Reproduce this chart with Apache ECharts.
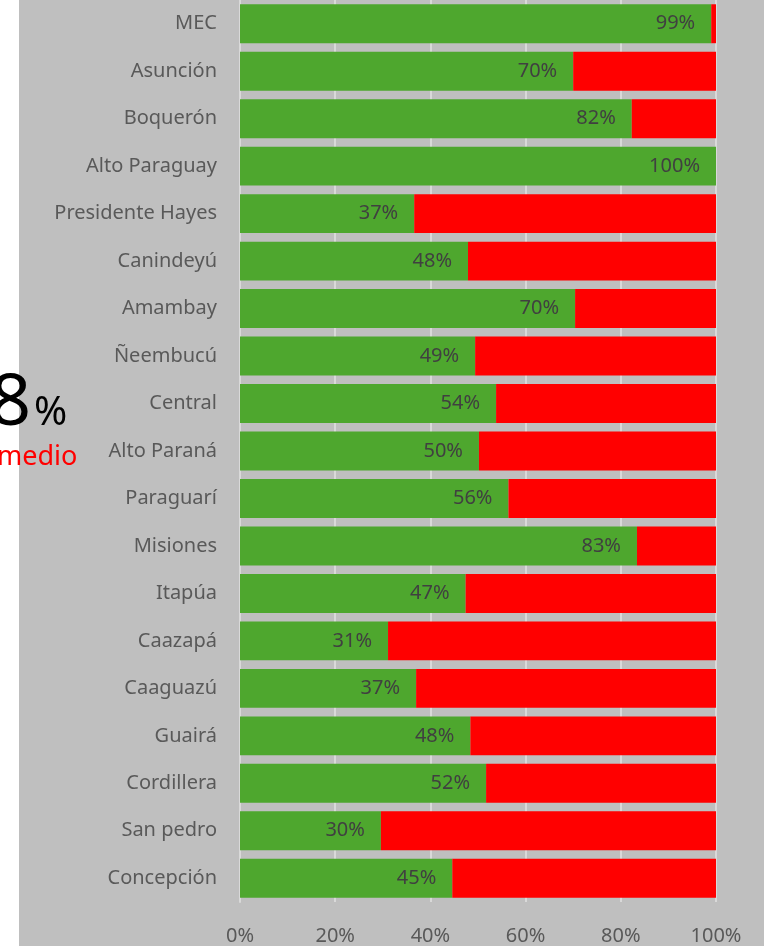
<!DOCTYPE html>
<html>
<head>
<meta charset="utf-8">
<script src="https://cdn.jsdelivr.net/npm/echarts@6/dist/echarts.min.js"></script>
<style>
  html, body { margin: 0; padding: 0; background: #fff; }
  #chart { width: 764px; height: 946px; }
</style>
</head>
<body>
<div id="chart"></div>
<script>
'use strict';

// departments, top to bottom
var categories = ['MEC', 'Asunción', 'Boquerón', 'Alto Paraguay', 'Presidente Hayes', 'Canindeyú',
    'Amambay', 'Ñeembucú', 'Central', 'Alto Paraná', 'Paraguarí', 'Misiones', 'Itapúa',
    'Caazapá', 'Caaguazú', 'Guairá', 'Cordillera', 'San pedro', 'Concepción'];

// share in green (%)
var greenValues = [99, 70, 82.3, 100, 36.6, 47.9, 70.4, 49.4, 53.8, 50.2, 56.4, 83.4, 47.4,
    31.1, 37, 48.4, 51.7, 29.6, 44.6];

// remainder in red
var redValues = greenValues.map(function (v) { return +(100 - v).toFixed(1); });

var xTicks = [0, 20, 40, 60, 80, 100];

var fontFamily = 'Noto Sans, Liberation Sans, sans-serif';

var chart = echarts.init(document.getElementById('chart'));

chart.setOption({
    backgroundColor: '#ffffff',
    animation: false,
    grid: { left: 240, right: 48, top: 0, bottom: 44 },
    graphic: [
        {
            type: 'rect', z: -10, silent: true,
            shape: { x: 19, y: 0, width: 745, height: 946 },
            style: { fill: '#bfbfbf' }
        },
        {
            type: 'text', left: -10, top: 368, z: 10,
            style: { text: '8', fontSize: 72, fill: '#000', fontFamily: fontFamily }
        },
        {
            type: 'text', left: 34, top: 394, z: 10,
            style: { text: '%', fontSize: 40, fill: '#000', fontFamily: fontFamily }
        },
        {
            type: 'text', left: -3, top: 444, z: 10,
            style: { text: 'medio', fontSize: 27, fill: '#ff0000', fontFamily: fontFamily }
        }
    ],
    xAxis: {
        type: 'value',
        min: 0,
        max: 100,
        interval: 20,
        axisLine: { show: false },
        axisTick: { show: false },
        splitLine: { show: true, lineStyle: { color: '#d9d9d9', width: 2 } },
        axisLabel: {
            color: '#595959', fontSize: 20, fontFamily: fontFamily, margin: 24,
            formatter: function (v) { return xTicks.indexOf(v) >= 0 ? v + '%' : ''; }
        }
    },
    yAxis: {
        type: 'category',
        data: categories,
        inverse: true,
        axisLine: { show: true, lineStyle: { color: '#d9d9d9', width: 2 } },
        axisTick: { show: false },
        axisLabel: { color: '#595959', fontSize: 20, fontFamily: fontFamily, margin: 23 }
    },
    series: [
        {
            name: 'green',
            type: 'bar',
            stack: 'total',
            barWidth: '82%',
            data: greenValues,
            itemStyle: { color: '#4ea72e' },
            label: {
                show: true,
                position: 'insideRight',
                distance: 16,
                color: '#404040',
                fontSize: 20,
                fontFamily: fontFamily,
                formatter: function (p) { return Math.round(p.value) + '%'; }
            }
        },
        {
            name: 'red',
            type: 'bar',
            stack: 'total',
            data: redValues,
            itemStyle: { color: '#ff0000' }
        }
    ]
});
</script>
</body>
</html>
